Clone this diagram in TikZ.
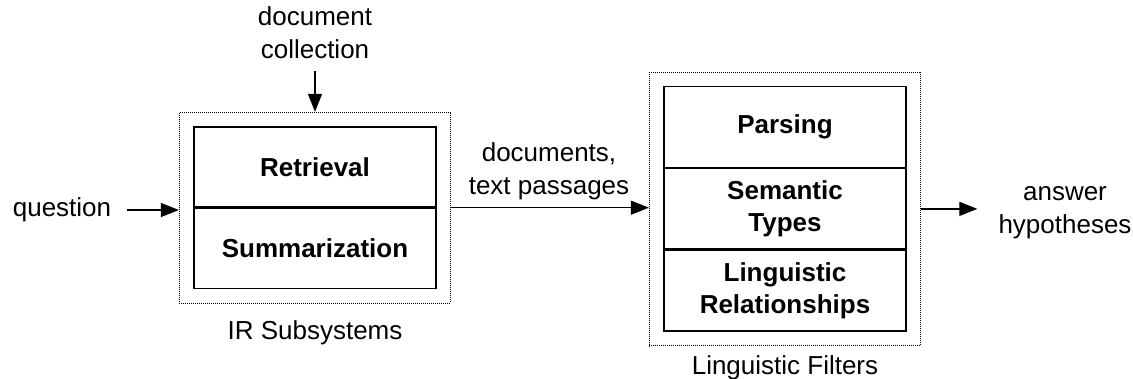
\documentclass[tikz,border=0pt]{standalone}
\usepackage{fontspec}
\setmainfont{Liberation Sans}
\usetikzlibrary{positioning,fit,arrows.meta}
\begin{document}
\begin{tikzpicture}[
			x=1pt, y=-1pt,
			every node/.style={font=\fontsize{26}{33}\selectfont, align=center, inner sep=0pt},
			cell/.style={draw, line width=1.4pt, minimum width=242pt, font=\fontsize{26}{32}\selectfont\bfseries},
			group/.style={draw, line width=0.8pt, dash pattern=on 1pt off 1pt, inner sep=14pt},
			arr/.style={line width=1.3pt, -{Triangle[length=18pt,width=14pt]}}
		]
		\useasboundingbox (0,0) rectangle (1133,379);
		% IR subsystems
		\node[cell, minimum height=80pt] (ret) at (315,167) {Retrieval};
		\node[cell, minimum height=80pt, below=0pt of ret] (sum) {Summarization};
		\node[group, fit=(ret)(sum)] (irbox) {};
		\node (irlbl) at (315,333) {IR Subsystems};
		% linguistic filters
		\node[cell, minimum height=80.5pt] (par) at (785,127) {Parsing};
		\node[cell, minimum height=80.5pt, below=0pt of par] (sem) {Semantic\\Types};
		\node[cell, minimum height=80.5pt, below=0pt of sem] (lin) {Linguistic\\Relationships};
		\node[group, fit=(par)(lin)] (lfbox) {};
		\node (lflbl) at (785,368) {Linguistic Filters};
		% inputs and outputs
		\node (quest) at (62,210) {question};
		\node (coll) at (315,33) {document\\collection};
		\node (docs) at (549,171) {documents,\\text passages};
		\node (ans) at (1065,213) {answer\\hypotheses};
		\draw[arr, shorten <=16pt] (quest.east) -- (irbox.west |- quest.east);
		\draw[arr, shorten <=12pt] (coll.south) -- (irbox.north);
		\draw[arr] (irbox.east) -- (lfbox.west |- irbox.east);
		\draw[arr, shorten >=21pt] (lfbox.east) -- (ans.west |- lfbox.east);
	\end{tikzpicture}
\end{document}
